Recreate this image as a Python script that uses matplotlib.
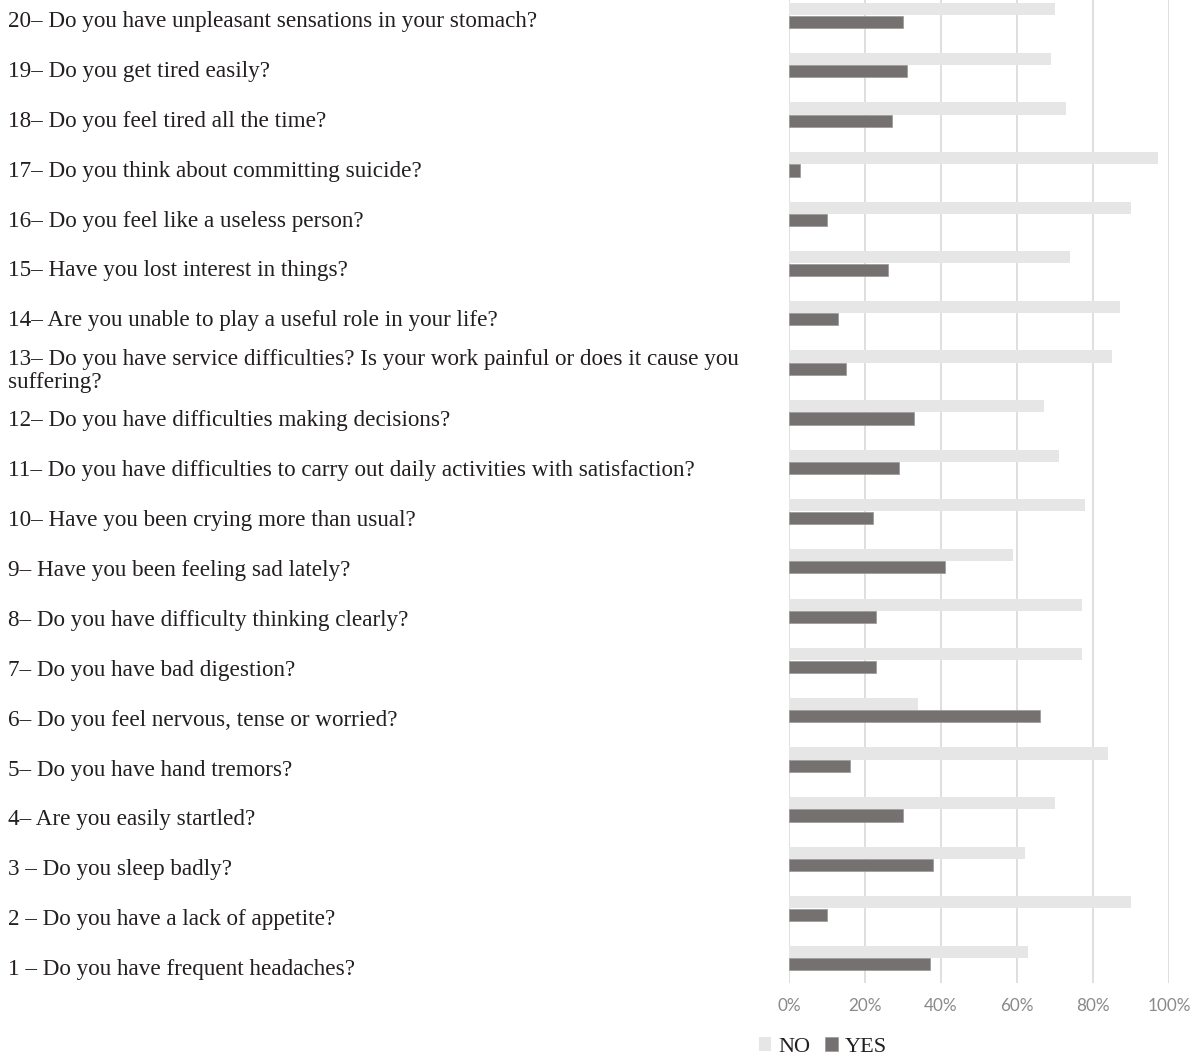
import numpy as np
import matplotlib
matplotlib.use("Agg")
import matplotlib.pyplot as plt
from matplotlib import transforms as mtransforms
from matplotlib.ticker import FuncFormatter

# ---- data (category 1 first, bottom of chart) ----
questions = [
    "1 – Do you have frequent headaches?",
    "2 – Do you have a lack of appetite?",
    "3 – Do you sleep badly?",
    "4– Are you easily startled?",
    "5– Do you have hand tremors?",
    "6– Do you feel nervous, tense or worried?",
    "7– Do you have bad digestion?",
    "8– Do you have difficulty thinking clearly?",
    "9– Have you been feeling sad lately?",
    "10– Have you been crying more than usual?",
    "11– Do you have difficulties to carry out daily activities with satisfaction?",
    "12– Do you have difficulties making decisions?",
    "13– Do you have service difficulties? Is your work painful or does it cause you\nsuffering?",
    "14– Are you unable to play a useful role in your life?",
    "15– Have you lost interest in things?",
    "16– Do you feel like a useless person?",
    "17– Do you think about committing suicide?",
    "18– Do you feel tired all the time?",
    "19– Do you get tired easily?",
    "20– Do you have unpleasant sensations in your stomach?",
]
no_pct = [63, 90, 62, 70, 84, 34, 77, 77, 59, 78, 71, 67, 85, 87, 74, 90, 97, 73, 69, 70]
yes_pct = [37, 10, 38, 30, 16, 66, 23, 23, 41, 22, 29, 33, 15, 13, 26, 10, 3, 27, 31, 30]
x_ticks = [0, 20, 40, 60, 80, 100]
series_names = ["NO", "YES"]

NO_COLOR = "#e7e6e6"
YES_COLOR = "#767171"
TEXT_COLOR = "#231f20"
SERIF = ["Liberation Serif", "DejaVu Serif"]

W, H = 1204, 1059
fig = plt.figure(figsize=(W / 100, H / 100), dpi=100)
fig.patch.set_facecolor("white")

# main bar axes
left_px, right_px, bottom_px = 789, 1169, 983
ax = fig.add_axes([left_px / W, (H - bottom_px) / H, (right_px - left_px) / W, bottom_px / H])
y = np.arange(len(questions))
bh = 0.245
b_no = ax.barh(y + 0.125, no_pct, height=bh, color=NO_COLOR, label=series_names[0], zorder=2)
b_yes = ax.barh(y - 0.125, yes_pct, height=bh, color=YES_COLOR, label=series_names[1],
                edgecolor="#9a9797", linewidth=0.5, zorder=2)
ax.set_xlim(0, 100)
ax.set_ylim(-0.5, 19.31)
ax.set_xticks(x_ticks)
ax.xaxis.set_major_formatter(FuncFormatter(lambda v, p: f"{int(v)}%"))
ax.set_yticks([])
ax.grid(axis="x", color="#d9d9d9", linewidth=1.2, zorder=0)
ax.set_axisbelow(True)
for s in ax.spines.values():
    s.set_visible(False)
ax.tick_params(axis="x", length=0, pad=11, labelsize=12.3, labelcolor="#8a8a8a")
for lab in ax.get_xticklabels():
    lab.set_fontfamily(["Lato", "DejaVu Sans"])

# label axes (question texts, left aligned)
ax_lab = fig.add_axes([0, 0, 0.64, 1])
ax_lab.axis("off")
ax_lab.set_ylim(-1.79, 19.43)
trans = mtransforms.blended_transform_factory(fig.transFigure, ax_lab.transData)
for i, q in enumerate(questions):
    ax_lab.text(8 / W, i, q, transform=trans, ha="left", va="center",
                fontsize=16.7, family=SERIF, color=TEXT_COLOR, linespacing=1.15)

# legend
fig.legend(handles=[b_no, b_yes], labels=series_names, loc="center left",
           bbox_to_anchor=(759 / W, 1 - 1047 / H), ncol=2, frameon=False,
           handlelength=0.55, handleheight=0.55, handletextpad=0.3,
           columnspacing=0.7, borderaxespad=0, borderpad=0,
           prop={"family": SERIF, "size": 16}, labelcolor=TEXT_COLOR)

fig.savefig("out.png", dpi=100, facecolor="white")
